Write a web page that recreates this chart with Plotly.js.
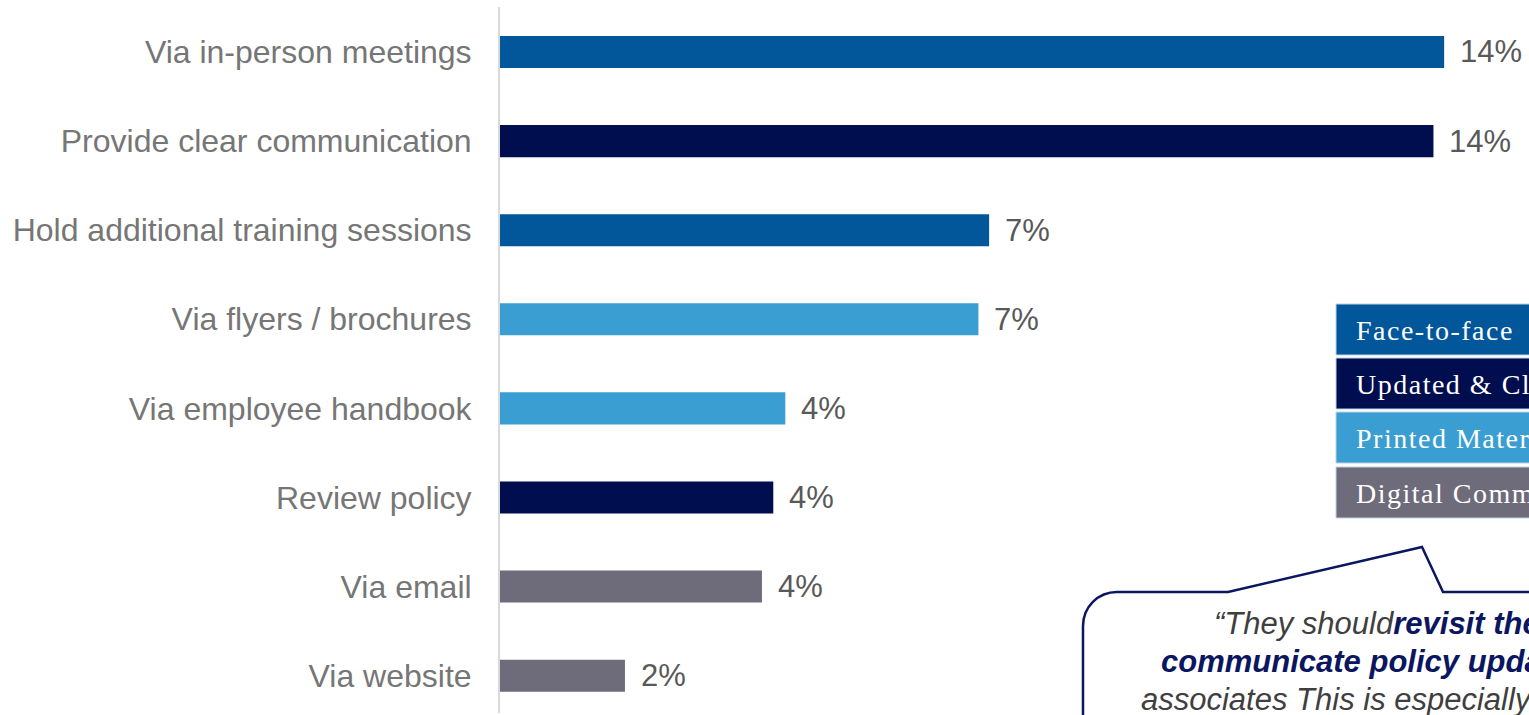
<!DOCTYPE html>
<html>
<head>
<meta charset="utf-8">
<script src="https://cdn.plot.ly/plotly-3.0.1.min.js"></script>
<style>
html,body{margin:0;padding:0;background:#fff;overflow:hidden;}
#chart{width:1529px;height:715px;}
</style>
</head>
<body>
<div id="chart"></div>
<script>
// ---- data ----
const categories = [
  "Via in-person meetings",
  "Provide clear communication",
  "Hold additional training sessions",
  "Via flyers / brochures",
  "Via employee handbook",
  "Review policy",
  "Via email",
  "Via website"
];
const values = [14.13, 13.97, 7.32, 7.16, 4.27, 4.09, 3.92, 1.87];
const groups = ["Face-to-face", "Updated", "Face-to-face", "Printed", "Printed", "Updated", "Digital", "Digital"];
const legendKeys = ["Face-to-face", "Updated", "Printed", "Digital"];
const legendLabels = ["Face-to-face", "Updated &amp; Clear Communication", "Printed Materials", "Digital Communication"];
const quoteLines = [
  '“They should<b><span style="color:#0B1660">revisit the</span></b>',
  '<b><span style="color:#0B1660">communicate policy updates</span></b>',
  'associates This is especially'
];

// ---- styles ----
const groupColors = {
  "Face-to-face": "#01579A",
  "Updated": "#000D4F",
  "Printed": "#3A9ED2",
  "Digital": "#6E6C7B"
};

const W = 1529, H = 715;
const L = 500, R = 1529, T = 7, B = 713;
const px = x => (x - L) / (R - L);
const py = y => (B - y) / (B - T);

const trace = {
  type: "bar",
  orientation: "h",
  y: categories,
  x: values,
  width: 0.36,
  marker: { color: groups.map(g => groupColors[g]) },
  hoverinfo: "none",
  showlegend: false
};

const annotations = [];
values.forEach((v, i) => {
  annotations.push({
    x: v, y: categories[i], xref: "x", yref: "y",
    text: Math.round(v) + "%",
    showarrow: false, xanchor: "left", yanchor: "middle", xshift: 14,
    font: { family: "Liberation Sans, Arial, sans-serif", size: 31, color: "#595959" }
  });
});

const shapes = [];
const boxTops = [304, 358, 412, 467];
const boxH = 51;
const legendTextLeft = 1354;
legendKeys.forEach((k, i) => {
  shapes.push({
    type: "rect", xref: "paper", yref: "paper",
    x0: px(1336), x1: px(1620), y0: py(boxTops[i] + boxH), y1: py(boxTops[i]),
    fillcolor: groupColors[k], line: { color: "#BFD3E6", width: 1 }, layer: "above"
  });
  annotations.push({
    xref: "paper", yref: "paper", x: px(legendTextLeft), y: py(boxTops[i] + boxH / 2 + 1),
    text: legendLabels[i], showarrow: false, xanchor: "left", yanchor: "middle",
    font: { family: "Liberation Serif, Times New Roman, serif", size: 28, color: "#FFFFFF" }
  });
});

// callout bubble
const calloutPath =
  `M ${px(1620)},${py(592)} L ${px(1443)},${py(592)} L ${px(1422)},${py(547)} L ${px(1228)},${py(592)} ` +
  `L ${px(1117)},${py(592)} C ${px(1098)},${py(592)} ${px(1083)},${py(607)} ${px(1083)},${py(626)} ` +
  `L ${px(1083)},${py(780)}`;
shapes.push({
  type: "path", xref: "paper", yref: "paper", path: calloutPath,
  fillcolor: "rgba(0,0,0,0)", line: { color: "#0B1660", width: 2.5 }, layer: "above"
});

const quoteX = [1212, 1159, 1139];
const quoteY = [623, 661, 699];
quoteLines.forEach((t, i) => {
  annotations.push({
    xref: "paper", yref: "paper", x: px(quoteX[i]), y: py(quoteY[i]),
    text: "<i>" + t + "</i>", showarrow: false, xanchor: "left", yanchor: "middle",
    font: { family: "Liberation Sans, Arial, sans-serif", size: 31, color: "#3F3F3F" }
  });
});

const layout = {
  width: W, height: H,
  margin: { l: L, r: W - R, t: T, b: H - B, pad: 0 },
  paper_bgcolor: "#FFFFFF", plot_bgcolor: "#FFFFFF",
  xaxis: {
    range: [0, 15.4], showgrid: false, zeroline: false, showticklabels: false,
    showline: false, fixedrange: true
  },
  yaxis: {
    type: "category", categoryorder: "array", categoryarray: categories,
    range: [7.419, -0.505], showgrid: false, zeroline: false,
    showline: true, linecolor: "#D9D9D9", linewidth: 2,
    ticks: "outside", ticklen: 20, tickcolor: "rgba(0,0,0,0)",
    tickfont: { family: "Liberation Sans, Arial, sans-serif", size: 32, color: "#767676" },
    fixedrange: true
  },
  shapes: shapes,
  annotations: annotations,
  showlegend: false
};

Plotly.newPlot("chart", [trace], layout, { displayModeBar: false, staticPlot: true }).then(() => {
  legendKeys.forEach((k, i) => {
    const g = document.querySelector(`g.annotation[data-index="${values.length + i}"]`);
    if (!g) return;
    const t = g.querySelector("text.annotation-text");
    if (!t) return;
    const box = t.getBBox();
    const ctm = t.getCTM();
    t.setAttribute("text-anchor", "start");
    t.setAttribute("x", box.x);
    t.style.letterSpacing = "1.5px";
  });
});
</script>
</body>
</html>
